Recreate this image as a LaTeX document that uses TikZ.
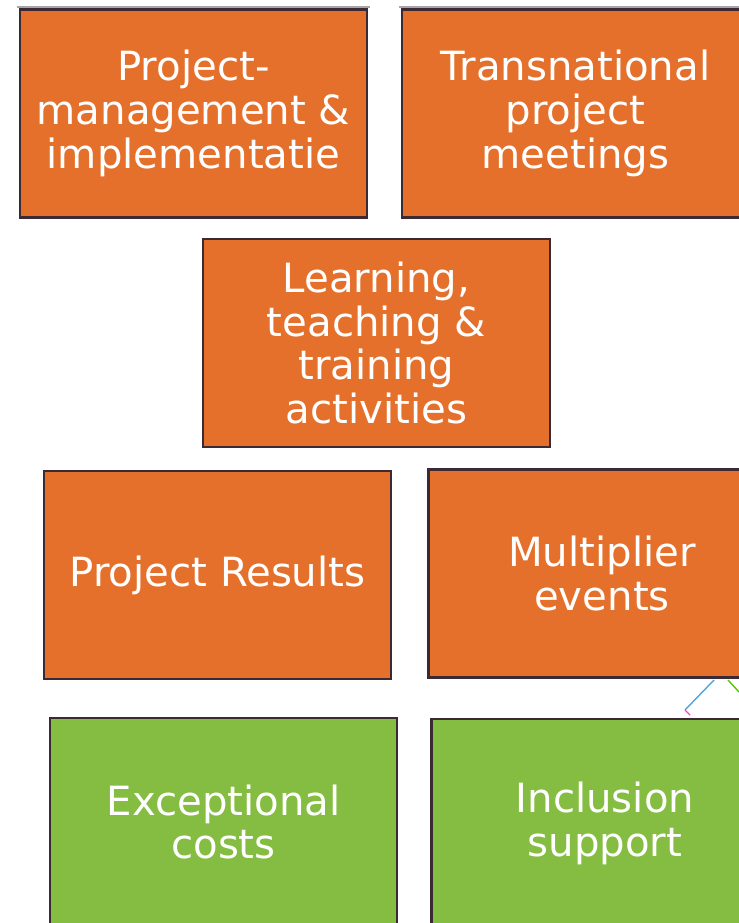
\documentclass[tikz,border=0pt]{standalone}
\usepackage{fontspec}
\setmainfont{DejaVu Sans}
\usetikzlibrary{positioning}

\definecolor{boxorange}{HTML}{E4702C}
\definecolor{boxgreen}{HTML}{84BD41}
\definecolor{boxline}{HTML}{3B2A33}
\definecolor{topline}{HTML}{A8A4AA}

\begin{document}
\begin{tikzpicture}[
                x=0.02cm, y=-0.02cm,
                block/.style={rectangle, draw=boxline, line width=1.5pt, text=white,
                    minimum width=6.94cm, minimum height=4.16cm, align=center,
                    font=\fontsize{22.9}{25}\selectfont},
                costs/.style={block, fill=boxorange},
                extra/.style={block, fill=boxgreen},
            ]
                \useasboundingbox (0,0) rectangle (739,923);
                \clip (0,0) rectangle (739,923);

                % Draw the budget categories
                \node[costs] (pm) at (193.5,113.5) {Project-\\management \&\\implementatie};
                \node[costs] (tpm) at (575.5,113.5) {Transnational\\project\\meetings};
                \node[costs] (ltt) at (376.5,343) {Learning,\\teaching \&\\training\\activities};
                \node[costs] (pr) at (217.5,575) {Project Results};
                \node[costs] (me) at (602,573.5) {Multiplier\\events};

                % Draw the additional budget categories
                \node[extra] (ec) at (223.5,822) {Exceptional\\costs};
                \node[extra] (is) at (605,823) {Inclusion\\support};

                % Grey top edge above the first row
                \draw[topline, line width=1pt] ([xshift=-1,yshift=0.8]pm.north west) -- ([xshift=1,yshift=0.8]pm.north east);
                \draw[topline, line width=1pt] ([xshift=-1,yshift=0.8]tpm.north west) -- ([yshift=0.8]tpm.north east);

                % Small fragments between the last rows
                \draw[cyan!70!blue!70, line width=0.8pt] (714,680) -- (685,710);
                \draw[magenta!70, line width=0.8pt] (685,710) -- (690,715);
                \draw[green!60!yellow!80!black, line width=0.8pt] (728,680) -- (739,692);
            \end{tikzpicture}
\end{document}
